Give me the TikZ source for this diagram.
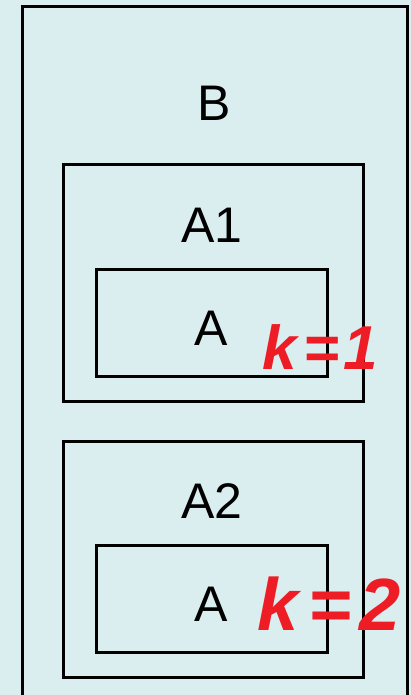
\documentclass[tikz,border=0pt]{standalone}
\usepackage{fontspec}
\setmainfont{Liberation Sans}
\definecolor{bgc}{HTML}{DAEDEF}
\definecolor{pen}{HTML}{EE1C25}
\begin{document}
\begin{tikzpicture}[x=1pt,y=-1pt,
  box/.style={draw=black,line width=3pt},
  lbl/.style={font=\fontsize{50}{50}\selectfont,inner sep=0pt,anchor=base},
  note/.style={text=pen,font=\fontsize{64}{64}\selectfont\itshape\bfseries,inner sep=0pt,anchor=base}]
\fill[bgc] (0,0) rectangle (411,695);
\useasboundingbox (0,0) rectangle (411,695);
\begin{scope}
\clip (0,0) rectangle (411,695);
\draw[box] (22,7) rectangle (407,720);
\end{scope}
\draw[box] (63,165) rectangle (363,401);
\draw[box] (96,269) rectangle (327,376);
\draw[box] (63,441) rectangle (363,677);
\draw[box] (96,545) rectangle (327,652);
\node[lbl] (b) at (214,121) {B};
\node[lbl] (a1) at (212,242) {A1};
\node[lbl] (a) at (211,345) {A};
\node[lbl] (a2) at (212,518) {A2};
\node[lbl] (aa) at (211,621) {A};
\node[note,font=\fontsize{62}{62}\selectfont\itshape\bfseries] (k1) at (320,369) {k\kern7pt=\kern3pt1};
\node[note,font=\fontsize{74}{74}\selectfont\itshape\bfseries] (k2) at (329,630) {k\kern10pt=\kern8pt2};
\end{tikzpicture}
\end{document}
